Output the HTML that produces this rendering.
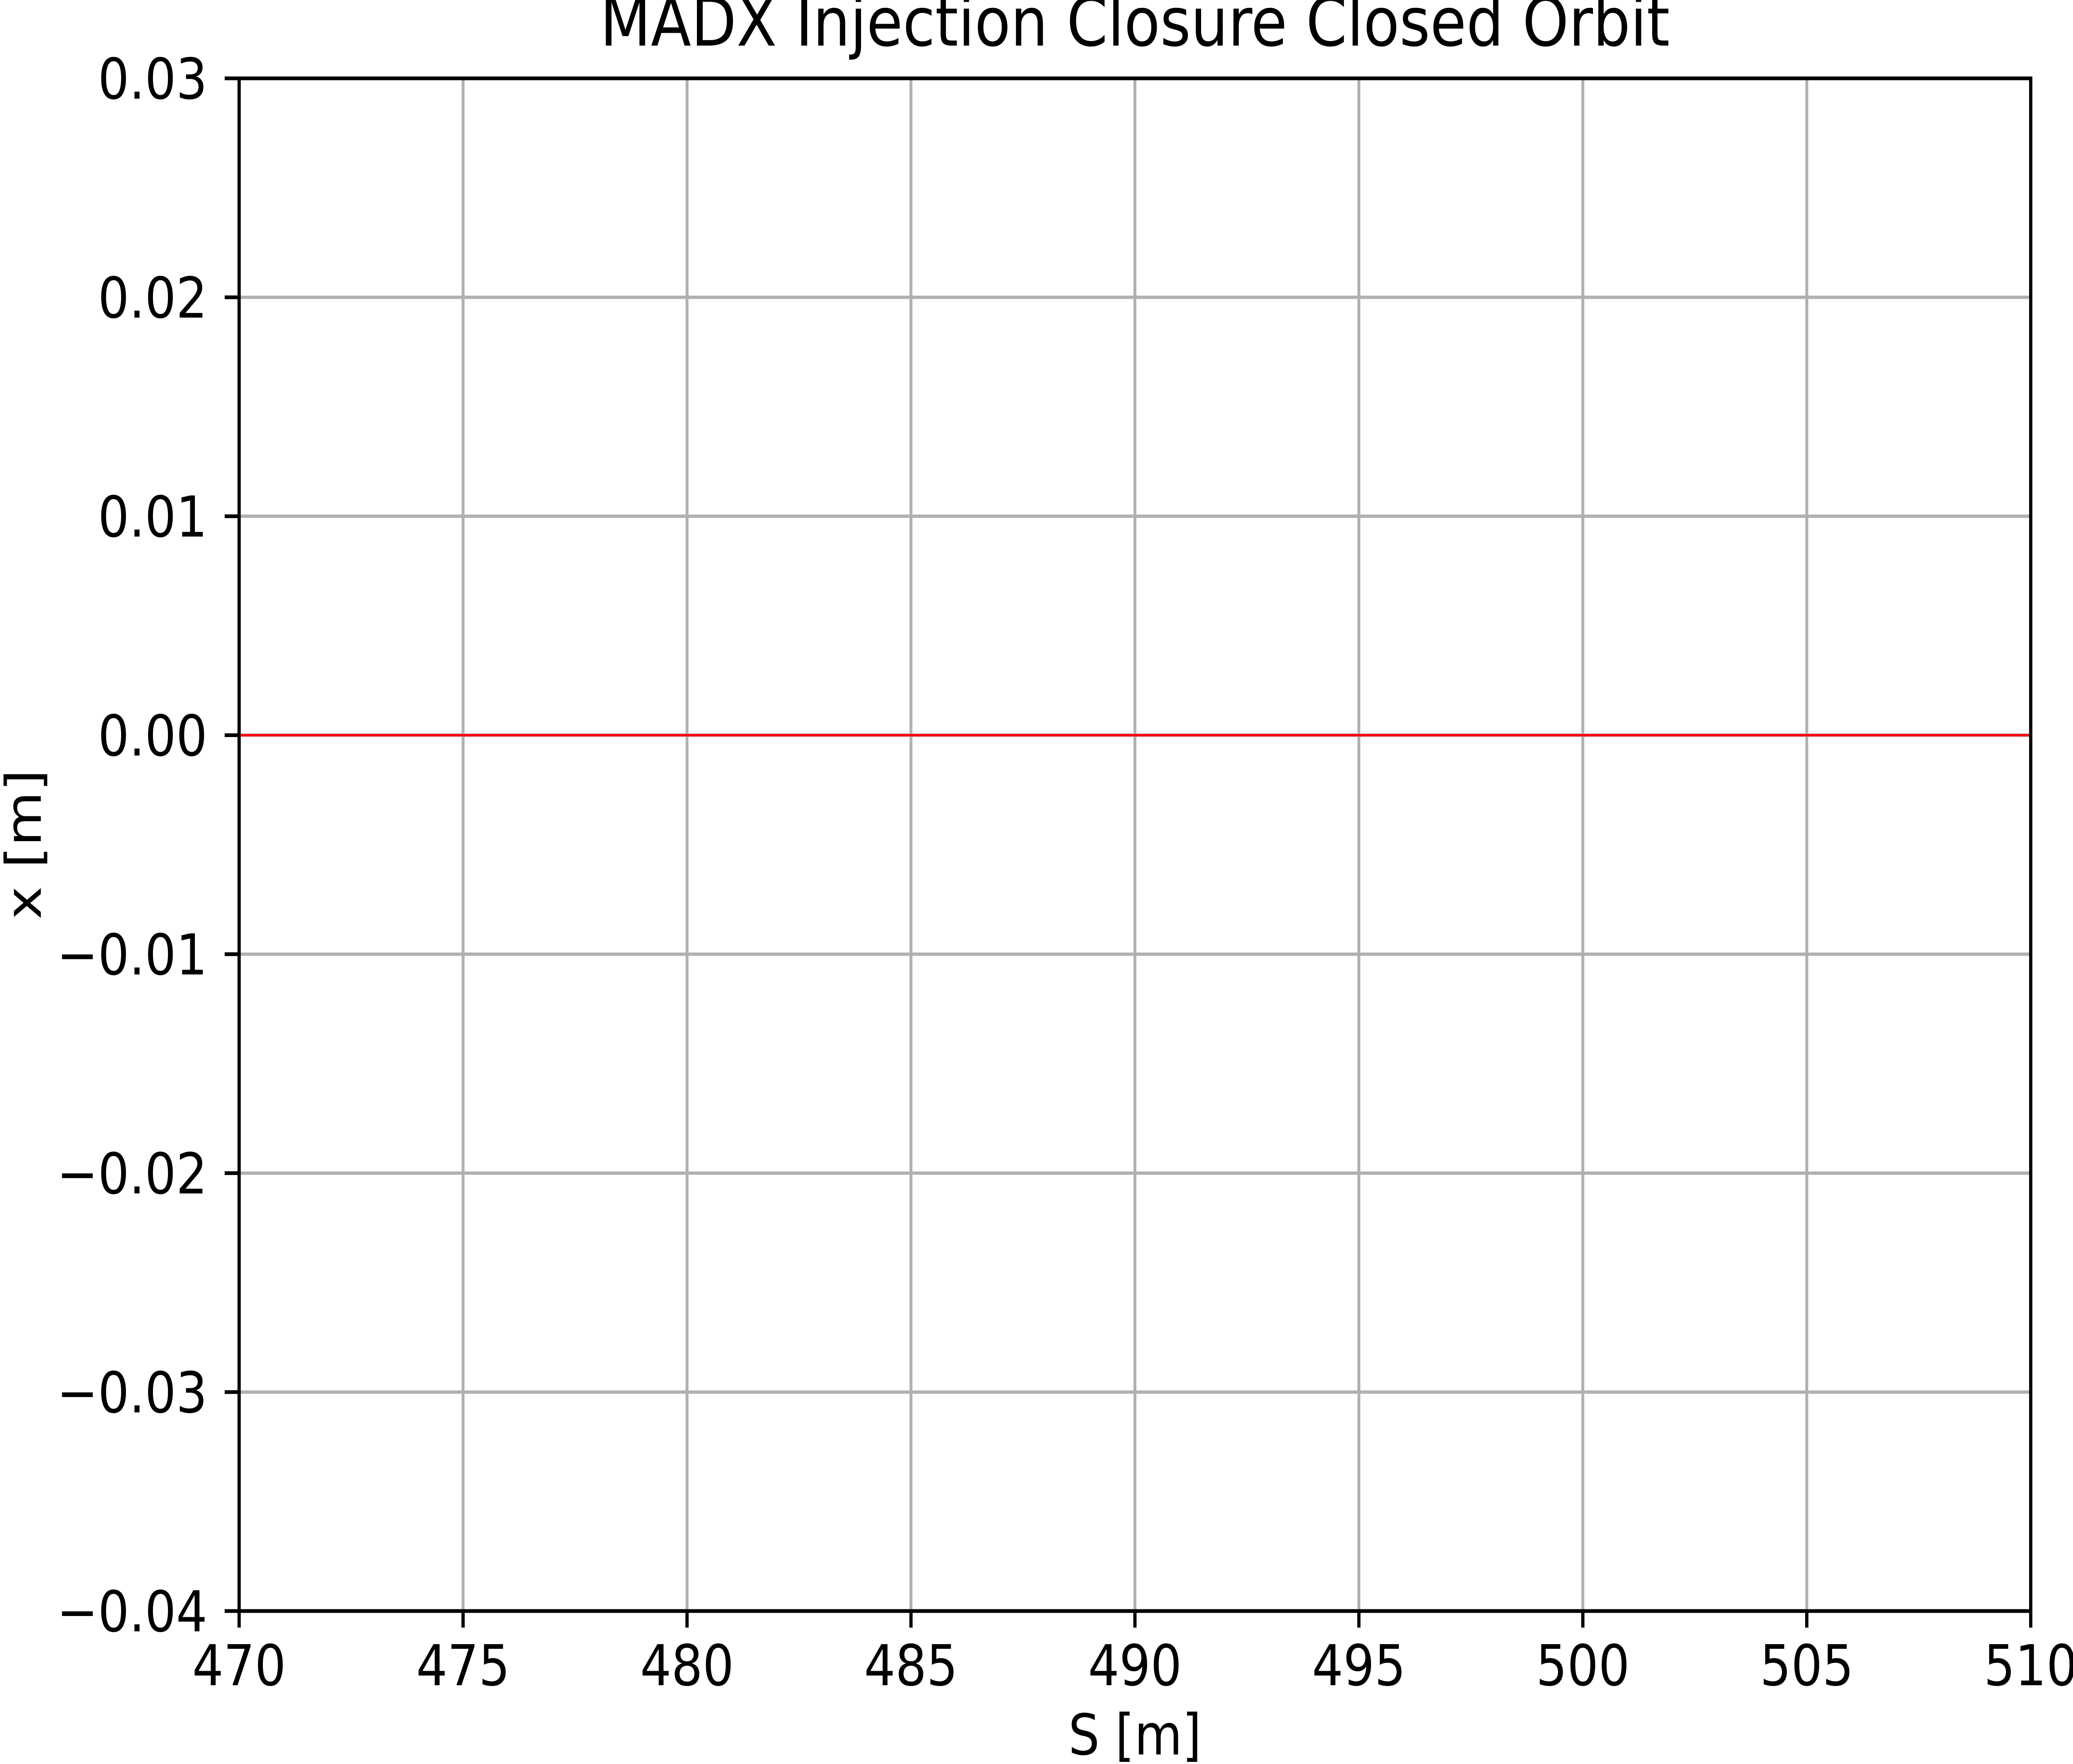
<!DOCTYPE html>
<html><head><meta charset="utf-8"><style>
html,body{margin:0;padding:0;background:#fff;overflow:hidden;width:100%;height:100%;}
svg{display:block;width:100vw;height:100vh;}
text{font-family:"DejaVu Sans","Liberation Sans",sans-serif;fill:#000;}
</style></head><body>
<svg id="chart" viewBox="0 0 5739 4255" preserveAspectRatio="none" xmlns="http://www.w3.org/2000/svg">
<rect width="5739" height="4255" fill="#fff"/>
<g id="grid"></g>
<g id="series"></g>
<g id="axes"></g>
<text x="3142" y="110" font-size="163" text-anchor="middle">MADX Injection Closure Closed Orbit</text>
<text x="3142" y="4232" font-size="136" text-anchor="middle">S [m]</text>
<text x="0" y="0" font-size="136" text-anchor="middle" transform="translate(113,2037) rotate(-90)">x [m]</text>
</svg>
<script>
const sValues = [470, 480, 490, 500, 510];
const orbitValues = [0, 0, 0, 0, 0];
const xTicks = [470, 475, 480, 485, 490, 495, 500, 505, 510];
const yTicks = [-0.04, -0.03, -0.02, -0.01, 0.00, 0.01, 0.02, 0.03];
const yTickLabels = ["\u22120.04","\u22120.03","\u22120.02","\u22120.01","0.00","0.01","0.02","0.03"];

const L=662,R=5622,T=189,B=3886;
const xMin=470,xMax=510,yMin=-0.04,yMax=0.03;
function sx(v){return L+(v-xMin)/(xMax-xMin)*(R-L);}
function sy(v){return B-(v-yMin)/(yMax-yMin)*(B-T);}
const NS='http://www.w3.org/2000/svg';
function mk(tag,attrs,parent){const e=document.createElementNS(NS,tag);for(const k in attrs)e.setAttribute(k,attrs[k]);parent.appendChild(e);return e;}
const grid=document.getElementById('grid'),axes=document.getElementById('axes'),series=document.getElementById('series');

xTicks.forEach((v,i)=>{
  const x=sx(v);
  const g=mk('line',{x1:x,x2:x,y1:T,y2:B,stroke:'#b0b0b0','stroke-width':8},grid);
  
  
  const t=mk('line',{x1:x,x2:x,y1:B,y2:B+40,stroke:'#000','stroke-width':9},axes);
  
  
  const lb=mk('text',{x:x,y:4065,'font-size':136,'text-anchor':'middle'},axes);
  lb.textContent=String(v);
  
  
});
yTicks.forEach((v,i)=>{
  const y=sy(v);
  const g=mk('line',{x1:L,x2:R,y1:y,y2:y,stroke:'#b0b0b0','stroke-width':8},grid);
  
  
  const t=mk('line',{x1:L-40,x2:L,y1:y,y2:y,stroke:'#000','stroke-width':9},axes);
  
  
  const lb=mk('text',{x:574,y:y+49,'font-size':136,'text-anchor':'end'},axes);
  lb.textContent=yTickLabels[i];
  
  
});
const pts=sValues.map((s,i)=>sx(s)+','+sy(orbitValues[i])).join(' ');
const line=mk('polyline',{points:pts,fill:'none',stroke:'#ff0000','stroke-width':6},series);


const frame=mk('rect',{x:L,y:T,width:R-L,height:B-T,fill:'none',stroke:'#000','stroke-width':9},axes);


</script>
</body></html>
